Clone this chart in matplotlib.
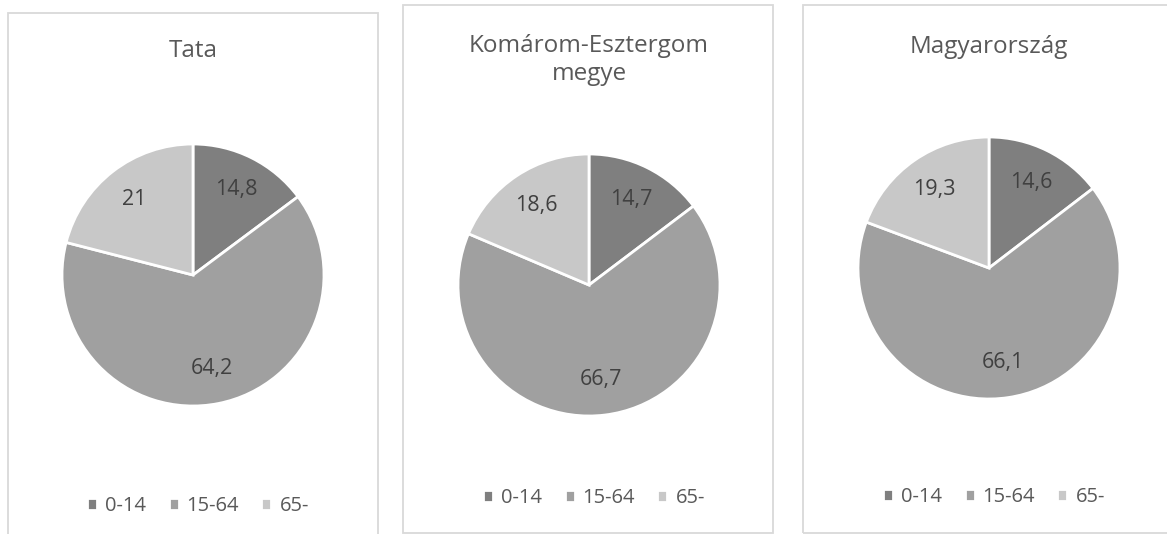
import matplotlib.pyplot as plt
from matplotlib.patches import Rectangle

# data
places = ['Tata', 'Komárom-Esztergom\nmegye', 'Magyarország']
age_groups = ['0-14', '15-64', '65-']
tata = [14.8, 64.2, 21.0]
komarom = [14.7, 66.7, 18.6]
magyarorszag = [14.6, 66.1, 19.3]

colors = ['#7f7f7f', '#a0a0a0', '#c8c8c8']
plt.rcParams['font.family'] = ['Open Sans', 'DejaVu Sans']

W, H = 1167, 534


def fx(px):
    return px / W


def fy(py):
    return 1 - py / H


def _fmt(pct):
    txt = f'{round(pct, 1):g}'
    return txt.replace('.', ',')


def _draw_panel(fig, values, title, box, center, radius, title_y, legend_xy):
    x0, y0, x1, y1 = box
    fig.patches.append(Rectangle((fx(x0), fy(y1)), fx(x1 - x0), (y1 - y0) / H,
                                 transform=fig.transFigure, fill=False,
                                 edgecolor='#d9d9d9', linewidth=1.3))
    cx, cy = center
    ax = fig.add_axes([fx(cx - radius), fy(cy + radius),
                       fx(2 * radius), 2 * radius / H])
    wedges, _, autotexts = ax.pie(values, colors=colors, startangle=90,
                                  counterclock=False, autopct=_fmt,
                                  pctdistance=0.73,
                                  wedgeprops=dict(edgecolor='white',
                                                  linewidth=2))
    for w in wedges:
        w.set_clip_on(False)
    for t in autotexts:
        t.set_fontsize(15.5)
        t.set_color('#404040')
    ax.set_xlim(-1, 1)
    ax.set_ylim(-1, 1)
    ax.set_aspect('equal')
    fig.text(fx(cx), fy(title_y), title, ha='center', va='center',
             fontsize=17.5, color='#595959', linespacing=1.25)
    ax.legend(wedges, age_groups, loc='center', ncol=3, frameon=False,
              bbox_to_anchor=(fx(legend_xy[0]), fy(legend_xy[1])),
              bbox_transform=fig.transFigure, fontsize=14.5,
              handlelength=0.5, handleheight=0.5, handletextpad=0.4,
              columnspacing=1.1, labelcolor='#595959')


fig = plt.figure(figsize=(W / 100, H / 100), dpi=100)
_draw_panel(fig, tata, places[0], (8, 13, 378, 545), (193, 275), 131,
            51, (198, 506))
_draw_panel(fig, komarom, places[1], (403, 5, 773, 533), (589, 285), 131,
            60, (594, 498))
_draw_panel(fig, magyarorszag, places[2], (803, 5, 1175, 533), (989, 268),
            131, 47, (994, 497))

fig.savefig('out.png', dpi=100)
